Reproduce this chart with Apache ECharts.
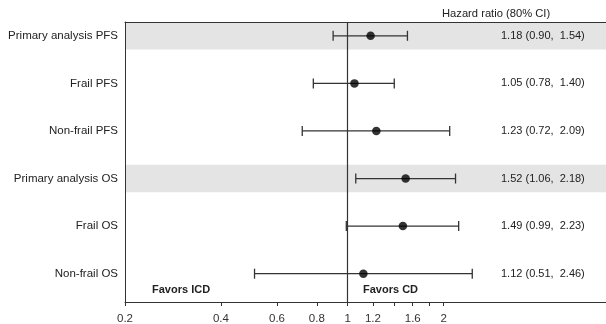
<!DOCTYPE html>
<html lang="en" style="height: 100%">
<head>
  <meta charset="utf-8">
</head>
<body style="height: 100%; margin: 0; background: #fff">
  <div id="container" style="width: 606px; height: 324px"></div>

  <script type="text/javascript" src="https://cdn.jsdelivr.net/npm/echarts@6/dist/echarts.min.js"></script>

  <script type="text/javascript">
    // rows, top to bottom
    var names = ['Primary analysis PFS', 'Frail PFS', 'Non-frail PFS', 'Primary analysis OS', 'Frail OS', 'Non-frail OS'];
    var hr = [1.18, 1.05, 1.23, 1.52, 1.49, 1.12];
    var lower = [0.90, 0.78, 0.72, 1.06, 0.99, 0.51];
    var upper = [1.54, 1.40, 2.09, 2.18, 2.23, 2.46];
    var shaded = [0, 3];   // rows with grey band
    var tickValues = [0.2, 0.4, 0.6, 0.8, 1, 1.2, 1.4, 1.6, 1.8, 2];
    var tickLabels = [0.2, 0.4, 0.6, 0.8, 1, 1.2, 1.6, 2];

    var lg = function (v) { return Math.log10(v); };
    var font = 'Liberation Sans, Arial, sans-serif';

    var hrText = names.map(function (n, i) {
      return hr[i].toFixed(2) + ' (' + lower[i].toFixed(2) + ',  ' + upper[i].toFixed(2) + ')';
    });

    var dom = document.getElementById('container');
    var myChart = echarts.init(dom, null, { renderer: 'canvas' });

    var xMin = lg(0.2), xMax = 0.8107;
    var yMin = -0.29, yMax = 5.595;
    var lineCol = '#333';

    var option = {
      animation: false,
      backgroundColor: '#fff',
      title: {
        text: 'Hazard ratio (80% CI)',
        left: 437,
        top: 3,
        textStyle: { fontFamily: font, fontSize: 11.2, fontWeight: 'normal', color: '#222' }
      },
      grid: { left: 125, right: 0, top: 22, bottom: 22, outerBoundsMode: 'none' },
      xAxis: [
        {
          type: 'value', min: xMin, max: xMax, z: 10,
          axisLine: { show: true, onZero: false, lineStyle: { color: lineCol, width: 1 } },
          axisTick: { show: true, length: 4, customValues: tickValues.map(lg), lineStyle: { color: lineCol } },
          axisLabel: {
            customValues: tickLabels.map(lg),
            margin: 11,
            fontFamily: font, fontSize: 11.5, color: '#333',
            formatter: function (v) { return String(+Math.pow(10, v).toFixed(1)); }
          },
          splitLine: { show: false }
        },
        {
          // top edge of the box
          type: 'value', min: xMin, max: xMax, position: 'top', z: 10,
          axisLine: { show: true, onZero: false, lineStyle: { color: lineCol, width: 1 } },
          axisTick: { show: false }, axisLabel: { show: false }, splitLine: { show: false }
        }
      ],
      yAxis: [
        {
          type: 'value', inverse: true, min: yMin, max: yMax, z: 10,
          axisLine: { show: true, onZero: false, lineStyle: { color: lineCol, width: 1 } },
          axisTick: { show: false }, splitLine: { show: false },
          axisLabel: {
            customValues: [0, 1, 2, 3, 4, 5],
            margin: 7,
            fontFamily: font, fontSize: 11.5, color: '#222',
            formatter: function (v) { return names[Math.round(v)]; }
          }
        },
        {
          type: 'value', inverse: true, min: yMin, max: yMax, position: 'right', offset: -113,
          z: 10,
          axisLine: { show: false }, axisTick: { show: false }, splitLine: { show: false },
          axisLabel: {
            customValues: [0, 1, 2, 3, 4, 5],
            margin: 8,
            fontFamily: font, fontSize: 11, color: '#222',
            formatter: function (v) { return hrText[Math.round(v)]; }
          }
        }
      ],
      graphic: [
        { type: 'text', left: 152, top: 284, z: 10, style: { text: 'Favors ICD', font: 'bold 11px ' + font, fill: '#222' } },
        { type: 'text', left: 363, top: 284, z: 10, style: { text: 'Favors CD', font: 'bold 11px ' + font, fill: '#222' } }
      ],
      series: [
        {
          type: 'custom',
          z: 3,
          data: names.map(function (n, i) { return [lg(lower[i]), lg(upper[i]), i]; }),
          renderItem: function (params, api) {
            var a = api.coord([api.value(0), api.value(2)]);
            var b = api.coord([api.value(1), api.value(2)]);
            var style = { stroke: '#333', lineWidth: 1.3 };
            return {
              type: 'group',
              children: [
                { type: 'line', shape: { x1: a[0], y1: a[1], x2: b[0], y2: b[1] }, style: style },
                { type: 'line', shape: { x1: a[0], y1: a[1] - 5, x2: a[0], y2: a[1] + 5 }, style: style },
                { type: 'line', shape: { x1: b[0], y1: b[1] - 5, x2: b[0], y2: b[1] + 5 }, style: style }
              ]
            };
          },
          markArea: {
            silent: true,
            z: 1,
            itemStyle: { color: '#e4e4e4' },
            data: shaded.map(function (r) { return [{ yAxis: r - 0.29 }, { yAxis: r + 0.29 }]; })
          },
          markLine: {
            silent: true,
            symbol: 'none',
            label: { show: false },
            lineStyle: { color: '#333', width: 1.2, type: 'solid' },
            data: [{ xAxis: lg(1) }]
          }
        },
        {
          type: 'scatter',
          z: 4,
          symbolSize: 8.5,
          itemStyle: { color: '#000' },
          data: names.map(function (n, i) { return [lg(hr[i]), i]; })
        }
      ]
    };

    myChart.setOption(option);
    window.addEventListener('resize', myChart.resize);
  </script>
</body>
</html>
